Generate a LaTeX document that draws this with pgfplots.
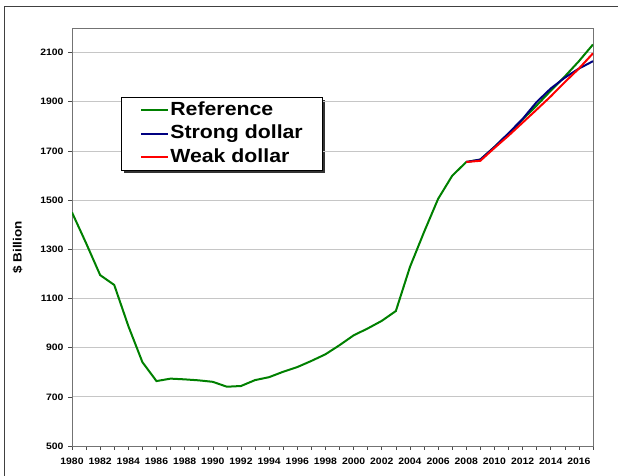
\documentclass[border=0pt]{standalone}
\usepackage{fontspec}
\setmainfont{Liberation Sans}[FakeStretch=1.12]
\usepackage{pgfplots}
\pgfplotsset{compat=1.18}

\definecolor{refgreen}{RGB}{0,128,0}
\definecolor{strongblue}{RGB}{0,0,128}
\definecolor{weakred}{RGB}{255,0,0}

\begin{document}
\begin{tikzpicture}
\useasboundingbox (0,0) rectangle (618pt,476pt);
\draw[line width=1pt, black!75] (4pt,0pt) -- (4pt,469pt) -- (618pt,469pt);
% legend shadow
\fill[black!80] (124pt,303pt) rectangle (325pt,376pt);
\begin{axis}[
  at={(72pt,30pt)}, anchor=south west,
  scale only axis, width=521pt, height=418pt,
  xmin=1980, xmax=2017, ymin=500, ymax=2200,
  xtick={1980,1982,...,2016},
  minor xtick={1981,1983,...,2017},
  ytick={500,700,...,2100},
  ymajorgrids, grid style={gray!45, line width=0.8pt},
  axis line style={black!55, line width=0.8pt},
  tick align=outside, major tick length=4pt, minor tick length=4pt,
  tick style={black!70, line width=0.6pt},
  xtick pos=bottom, ytick pos=left,
  /pgf/number format/assume math mode=true,
  /pgf/number format/set thousands separator={},
  tick label style={font=\fontsize{9.3}{11}\selectfont\bfseries},
  y tick label style={xshift=-1pt},
  x tick label style={yshift=-4pt},
  ylabel={\$ Billion},
  ylabel style={at={(axis description cs:-0.1046,0.475)}, anchor=center,
    font=\fontsize{12}{14}\selectfont\bfseries},
  legend cell align=left,
  legend image code/.code={\draw[#1, line width=2pt] (0pt,0pt) -- (22pt,0pt);
    \path (0pt,0pt) -- (27pt,0pt);},
  legend style={at={(rel axis cs:0.094,0.835)}, anchor=north west,
    draw=black, line width=0.8pt, fill=white,
    inner xsep=19pt, inner ysep=3pt, row sep=3.5pt,
    font=\fontsize{19}{21}\selectfont\bfseries,
    nodes={inner sep=1pt, text height=14pt, text depth=4pt}},
]
\addplot[refgreen, line width=2pt] coordinates {
 (1980,1450) (1981,1325) (1982,1195) (1983,1155) (1984,988) (1985,841)
 (1986,764) (1987,774) (1988,771) (1989,767) (1990,761) (1991,741)
 (1992,744) (1993,768) (1994,780) (1995,802) (1996,821) (1997,846)
 (1998,873) (1999,910) (2000,950) (2001,978) (2002,1009) (2003,1049)
 (2004,1228) (2005,1370) (2006,1505) (2007,1599) (2008,1655) (2009,1665)
 (2010,1716) (2011,1770) (2012,1828) (2013,1885) (2014,1945) (2015,2003)
 (2016,2065) (2017,2133)
};
\addlegendentry{Reference}
\addplot[strongblue, line width=2pt] coordinates {
 (2008,1655) (2009,1665) (2010,1716) (2011,1772) (2012,1830) (2013,1899)
 (2014,1954) (2015,1998) (2016,2035) (2017,2065)
};
\addlegendentry{Strong dollar}
\addplot[weakred, line width=2pt] coordinates {
 (2008,1655) (2009,1660) (2010,1712) (2011,1762) (2012,1815) (2013,1868)
 (2014,1922) (2015,1980) (2016,2035) (2017,2097)
};
\addlegendentry{Weak dollar}
\end{axis}
\end{tikzpicture}
\end{document}
